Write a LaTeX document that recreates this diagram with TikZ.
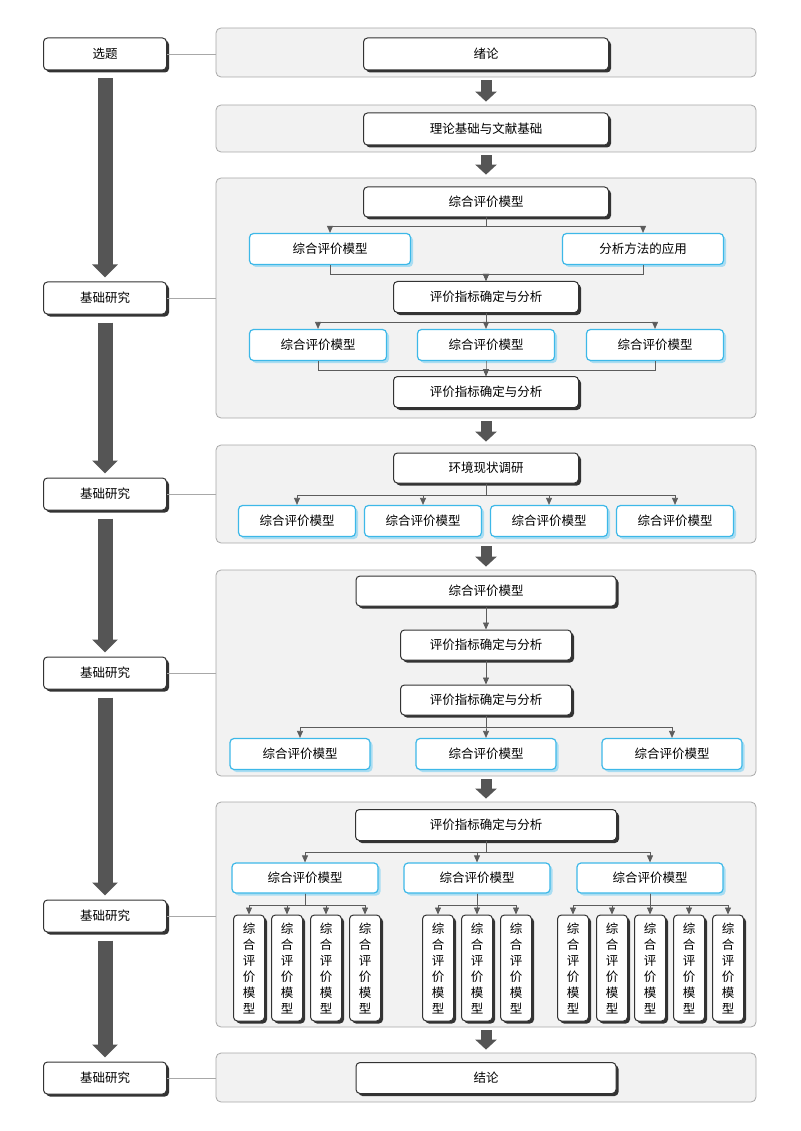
\documentclass[tikz,border=0pt]{standalone}
\usepackage{fontspec}
\setmainfont{Noto Sans CJK SC}
\usetikzlibrary{arrows.meta,shadows}
\definecolor{panelgray}{HTML}{F2F2F2}
\definecolor{panelline}{HTML}{A8A8A8}
\definecolor{boxline}{HTML}{333333}
\definecolor{arrgray}{HTML}{555555}
\definecolor{skyline}{HTML}{3DB8E8}
\definecolor{skyshadow}{HTML}{A9DDF2}
\tikzset{
  panel/.style={draw=panelline, fill=panelgray, rounded corners=5pt, line width=0.8pt},
  blk/.style={draw=boxline, fill=white, rounded corners=4pt, line width=1pt, font=\fontsize{12.5}{15}\selectfont,
    drop shadow={shadow xshift=2.5pt, shadow yshift=-2.5pt, fill=boxline, opacity=1}},
  blu/.style={draw=skyline, fill=white, rounded corners=4pt, line width=1.2pt, font=\fontsize{12.5}{15}\selectfont,
    drop shadow={shadow xshift=2.5pt, shadow yshift=-2.5pt, fill=skyshadow, opacity=1}},
  lft/.style={blk, minimum width=123pt, minimum height=32pt},
  vbox/.style={blk, minimum width=31pt, minimum height=106pt, align=center, font=\fontsize{12.5}{16}\selectfont},
  link/.style={draw=boxline!80, line width=0.7pt},
  arr/.style={link, -{Triangle[width=6pt,length=7pt]}},
  bigarr/.style={draw=arrgray, line width=15pt, -{Triangle[width=25pt,length=13pt]}},
  smallarr/.style={draw=arrgray, line width=11pt, -{Triangle[width=21pt,length=10pt]}}
}
\newcommand{\vzh}{综\\合\\评\\价\\模\\型}
\begin{document}
\begin{tikzpicture}[x=1pt,y=-1pt]
  \useasboundingbox (0,0) rectangle (800,1131);

  % panels
  \node[panel, minimum width=540pt, minimum height=49pt] (p1) at (486,52.5) {};
  \node[panel, minimum width=540pt, minimum height=47pt] (p2) at (486,128.5) {};
  \node[panel, minimum width=540pt, minimum height=240pt] (p3) at (486,298) {};
  \node[panel, minimum width=540pt, minimum height=98pt] (p4) at (486,494) {};
  \node[panel, minimum width=540pt, minimum height=206pt] (p5) at (486,673) {};
  \node[panel, minimum width=540pt, minimum height=225pt] (p6) at (486,914.5) {};
  \node[panel, minimum width=540pt, minimum height=49pt] (p7) at (486,1077.5) {};

  % left column
  \node[lft] (l0) at (105,54) {选题};
  \node[lft] (l1) at (105,298) {基础研究};
  \node[lft] (l2) at (105,494) {基础研究};
  \node[lft] (l3) at (105,673) {基础研究};
  \node[lft] (l4) at (105,916) {基础研究};
  \node[lft] (l5) at (105,1078) {基础研究};
  \foreach \i/\p in {0/1,1/3,2/4,3/5,4/6,5/7}
    \draw[draw=panelline, line width=0.8pt] (l\i.east) -- (l\i.east -| p\p.west);
  \foreach \a/\b in {0/1,1/2,2/3,3/4,4/5}
    \draw[bigarr, shorten <=8pt, shorten >=4pt] (l\a) -- (l\b);

  % between panels
  \foreach \a/\b in {1/2,2/3,3/4,4/5,5/6,6/7}
    \draw[smallarr, shorten <=3pt, shorten >=3pt] (p\a.south) -- (p\b.north);

  % panel 1, 2
  \node[blk, minimum width=245pt, minimum height=32pt] (t1) at (486,54) {绪论};
  \node[blk, minimum width=245pt, minimum height=32pt] (t2) at (486,129) {理论基础与文献基础};

  % panel 3
  \node[blk, minimum width=245pt, minimum height=30pt] (t3) at (486,202) {综合评价模型};
  \node[blu, minimum width=161pt, minimum height=31pt] (b31) at (330,249) {综合评价模型};
  \node[blu, minimum width=161pt, minimum height=31pt] (b32) at (643,249) {分析方法的应用};
  \node[blk, minimum width=185pt, minimum height=31pt] (m3) at (486,297) {评价指标确定与分析};
  \node[blu, minimum width=137pt, minimum height=31pt] (c31) at (318,345) {综合评价模型};
  \node[blu, minimum width=137pt, minimum height=31pt] (c32) at (486,345) {综合评价模型};
  \node[blu, minimum width=137pt, minimum height=31pt] (c33) at (655,345) {综合评价模型};
  \node[blk, minimum width=185pt, minimum height=31pt] (e3) at (486,392) {评价指标确定与分析};
  \foreach \n in {b31,b32}
    \draw[arr] (t3.south) -- ++(0,9) -| (\n.north);
  \foreach \n in {b31,b32}
    \draw[arr] (\n.south) -- ++(0,9) -| (m3.north);
  \foreach \n in {c31,c32,c33}
    \draw[arr] (m3.south) -- ++(0,9) -| (\n.north);
  \foreach \n in {c31,c32,c33}
    \draw[arr] (\n.south) -- ++(0,9) -| (e3.north);

  % panel 4
  \node[blk, minimum width=185pt, minimum height=30pt] (t4) at (486,468) {环境现状调研};
  \foreach \x [count=\i] in {297,423,549,675} {
    \node[blu, minimum width=117pt, minimum height=31pt] (b4\i) at (\x,521) {综合评价模型};
    \draw[arr] (t4.south) -- ++(0,12) -| (b4\i.north);
  }

  % panel 5
  \node[blk, minimum width=260pt, minimum height=30pt] (t5) at (486,591) {综合评价模型};
  \node[blk, minimum width=171pt, minimum height=30pt] (m5) at (486,645) {评价指标确定与分析};
  \node[blk, minimum width=171pt, minimum height=30pt] (n5) at (486,700) {评价指标确定与分析};
  \draw[arr] (t5) -- (m5);
  \draw[arr] (m5) -- (n5);
  \foreach \x [count=\i] in {300,486,672} {
    \node[blu, minimum width=140pt, minimum height=31pt] (b5\i) at (\x,754) {综合评价模型};
    \draw[arr] (n5.south) -- ++(0,12) -| (b5\i.north);
  }

  % panel 6
  \node[blk, minimum width=261pt, minimum height=31pt] (t6) at (486,825) {评价指标确定与分析};
  \foreach \x [count=\i] in {305,477,650} {
    \node[blu, minimum width=146pt, minimum height=30pt] (b6\i) at (\x,878) {综合评价模型};
    \draw[arr] (t6.south) -- ++(0,11) -| (b6\i.north);
  }
  \foreach \x [count=\j] in {249,287,326,365} {
    \node[vbox] (va\j) at (\x,968) {\vzh};
    \draw[arr] (b61.south) -- ++(0,12) -| (va\j.north);
  }
  \foreach \x [count=\j] in {438,477,516} {
    \node[vbox] (vb\j) at (\x,968) {\vzh};
    \draw[arr] (b62.south) -- ++(0,12) -| (vb\j.north);
  }
  \foreach \x [count=\j] in {573,612,650,689,728} {
    \node[vbox] (vc\j) at (\x,968) {\vzh};
    \draw[arr] (b63.south) -- ++(0,12) -| (vc\j.north);
  }

  % panel 7
  \node[blk, minimum width=260pt, minimum height=31pt] (t7) at (486,1078) {结论};
\end{tikzpicture}
\end{document}
